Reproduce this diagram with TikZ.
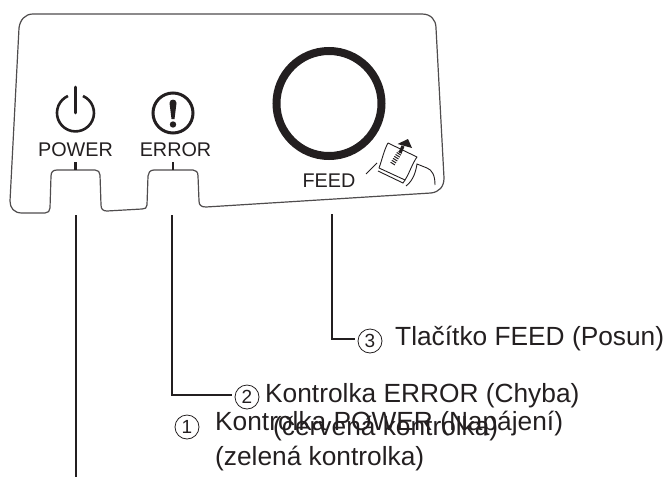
\documentclass[tikz,border=0pt]{standalone}
\usepackage{fontspec}
\setmainfont{Liberation Sans}
\definecolor{ink}{HTML}{231F20}
\tikzset{
  lead/.style={draw=ink,line width=2pt},
  panel/.style={draw=ink!80,line width=1.2pt,line join=round},
  lab/.style={text=ink,font=\fontsize{26.3}{33}\selectfont,inner sep=0pt,anchor=base west,align=left},
  small/.style={text=ink,font=\fontsize{19.8}{24}\selectfont,inner sep=0pt,anchor=base},
  numc/.style={circle,draw=ink,line width=.8pt,minimum size=24pt,inner sep=0pt,text=ink,font=\fontsize{19}{19}\selectfont}
}
\begin{document}
\begin{tikzpicture}[x=1pt,y=-1pt]
\useasboundingbox (0,0) rectangle (666,477);
% panel
\draw[panel] (33,14) -- (422,14) .. controls (431,14) and (436,20) .. (436,28)
  -- (444,178) .. controls (444,187) and (439,192) .. (431,193)
  -- (206,207) .. controls (201,207) and (199,205) .. (199,201)
  -- (198,176) .. controls (198,172) and (196,170) .. (193,170)
  -- (154,170) .. controls (150,170) and (148,173) .. (148,176)
  -- (147,205) .. controls (147,208) and (145,209) .. (142,209)
  -- (107,211) .. controls (103,211) and (101,209) .. (101,205)
  -- (100,175) .. controls (100,172) and (98,170) .. (95,170)
  -- (57,170) .. controls (53,170) and (51,172) .. (51,176)
  -- (50,208) .. controls (50,211) and (48,213) .. (45,213)
  -- (22,213) .. controls (14,213) and (10,208) .. (10,201)
  -- (19,28) .. controls (20,20) and (25,14) .. (33,14) -- cycle;
% labels in panel
\node[small] (power) at (75.5,156) {POWER};
\node[small] (error) at (175.5,156) {ERROR};
\node[small] (feed) at (329,187) {FEED};
% power icon
\draw[ink,line width=2.8pt,line cap=round] (75.5,87) -- (75.5,113);
\draw[ink,line width=2.6pt] (83,96) arc[start angle=-66,end angle=246,radius=18.5];
% error icon
\node[circle,draw=ink,line width=3pt,minimum size=40pt,inner sep=0pt] (erroricon) at (173,113) {};
\fill[ink] (169.5,103) .. controls (169.5,98.5) and (176.5,98.5) .. (176.5,103) -- (174.5,119) -- (171.5,119) -- cycle;
\fill[ink] (173,124.5) circle[radius=3.2];
% ticks
\draw[ink,line width=2.4pt] (75.5,162) -- (75.5,170);
\draw[ink,line width=2.4pt] (173,162) -- (173,170);
% feed button
\node[circle,draw=ink,line width=8pt,minimum size=105pt,inner sep=0pt] (feedbtn) at (329,103.5) {};
% feed icon
\draw[ink,line width=.9pt,line join=round] (366,174) -- (377,163);
\draw[ink,line width=.9pt,line join=round] (379,168) .. controls (382,160) and (384,150) .. (388,143)
  -- (417,157) .. controls (412,164) and (410,172) .. (405,180) -- cycle;
\draw[ink,line width=.9pt] (378,171) -- (403,183) -- (405,180);
\draw[ink,line width=.9pt] (406,186) .. controls (414,180) and (416,170) .. (417,164)
  -- (427,168) .. controls (432,170) and (435,175) .. (435,185);
\draw[ink,line width=3.2pt] (400,153) -- (403,146);
\fill[ink] (397.5,144) -- (408,139) -- (412,148) -- cycle;
\draw[ink,line width=5pt,dash pattern=on 1pt off 1.3pt] (392.5,164) -- (400,152);
% leaders
\coordinate (c1) at (75.5,215);
\coordinate (e1) at (75.5,477);
\draw[lead] (c1) -- (e1);
\node[numc] (n2) at (247,397) {2};
\coordinate (c2) at (172,215);
\draw[lead,shorten >=3pt] (c2) |- ([yshift=2pt]n2.west);
\node[numc] (n3) at (370,341) {3};
\coordinate (c3) at (332,214);
\draw[lead,shorten >=3pt] (c3) |- ([yshift=2pt]n3.west);
\node[numc] (n1) at (187,427) {1};
% texts
\node[lab] (t3) at (395,345) {Tlačítko FEED (Posun)};
\node[lab] (t2) at (265,435) {Kontrolka ERROR (Chyba)\\\hspace*{8pt}(červená kontrolka)};
\node[lab,font=\fontsize{26.3}{35}\selectfont] (t1) at (215,465) {Kontrolka POWER (Napájení)\\(zelená kontrolka)};
\end{tikzpicture}
\end{document}
